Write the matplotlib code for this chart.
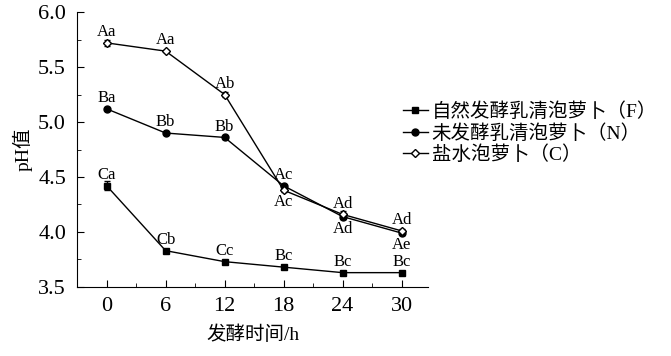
import matplotlib
matplotlib.use('Agg')
import matplotlib.pyplot as plt
from matplotlib.ticker import MultipleLocator

plt.rcParams['font.family'] = ['Liberation Serif', 'Noto Sans CJK SC']

# Dados
hours = [0, 6, 12, 18, 24, 30]
ph_f = [4.42, 3.83, 3.73, 3.68, 3.63, 3.63]
ph_n = [5.12, 4.90, 4.86, 4.42, 4.14, 3.99]
ph_c = [5.72, 5.645, 5.25, 4.38, 4.16, 4.01]
err_f = [0.04, 0.01, 0.01, 0.01, 0.01, 0.01]
err_n = [0.01, 0.01, 0.01, 0.01, 0.02, 0.02]
err_c = [0.03, 0.01, 0.02, 0.02, 0.03, 0.02]
lab_f = ['Ca', 'Cb', 'Cc', 'Bc', 'Bc', 'Bc']
lab_n = ['Ba', 'Bb', 'Bb', 'Ac', 'Ad', 'Ae']
lab_c = ['Aa', 'Aa', 'Ab', 'Ac', 'Ad', 'Ad']
# posição do rótulo: 1 acima, -1 abaixo
pos_n = [1, 1, 1, 1, -1, -1]
pos_c = [1, 1, 1, -1, 1, 1]
pos_f = [1, 1, 1, 1, 1, 1]

fig = plt.figure(figsize=(6.71, 3.56), dpi=100)
ax = fig.add_axes([0.115, 0.194, 0.523, 0.772])

series = [
    (ph_f, err_f, 's', 'black', '自然发酵乳清泡萝卜（F）'),
    (ph_n, err_n, 'o', 'black', '未发酵乳清泡萝卜（N）'),
    (ph_c, err_c, 'D', 'white', '盐水泡萝卜（C）'),
]
for ys, es, mk, fc, lab in series:
    ax.errorbar(hours, ys, yerr=es, fmt='none', ecolor='black', elinewidth=1, capsize=2)
    ax.plot(hours, ys, color='black', marker=mk, ms=5 if mk != 'D' else 4.5,
            mfc=fc, mec='black', mew=1, lw=1, label=lab)

for ys, labs, poss in [(ph_f, lab_f, pos_f), (ph_n, lab_n, pos_n), (ph_c, lab_c, pos_c)]:
    for x, y, t, p in zip(hours, ys, labs, poss):
        off = 2 if p > 0 else -3
        ax.annotate(t, (x, y), xytext=(0, off), textcoords='offset points',
                    ha='center', va='bottom' if p > 0 else 'top', fontsize=12)

ax.set_xlim(-3, 32.7)
ax.set_ylim(3.5, 6.0)
ax.xaxis.set_major_locator(MultipleLocator(6))
ax.xaxis.set_minor_locator(MultipleLocator(3))
ax.yaxis.set_major_locator(MultipleLocator(0.5))
ax.yaxis.set_minor_locator(MultipleLocator(0.25))
ax.set_yticks([3.5, 4.0, 4.5, 5.0, 5.5, 6.0])
ax.set_yticklabels(['3.5', '4.0', '4.5', '5.0', '5.5', '6.0'])
ax.tick_params(which='both', direction='in', labelsize=16)
ax.tick_params(which='major', length=5)
ax.tick_params(which='minor', length=3)
ax.tick_params(axis='x', pad=7)
ax.tick_params(axis='y', pad=8)
for s in ['top', 'right']:
    ax.spines[s].set_visible(False)

ax.set_xlabel('发酵时间/h', fontsize=14, labelpad=7)
ax.set_ylabel('pH值', fontsize=14, labelpad=4)

ax.legend(loc='upper left', bbox_to_anchor=(0.905, 0.70), frameon=False,
          fontsize=14, handlelength=1.3, handletextpad=0.2,
          labelspacing=0.15, borderaxespad=0)

fig.savefig('out.png', dpi=100)
